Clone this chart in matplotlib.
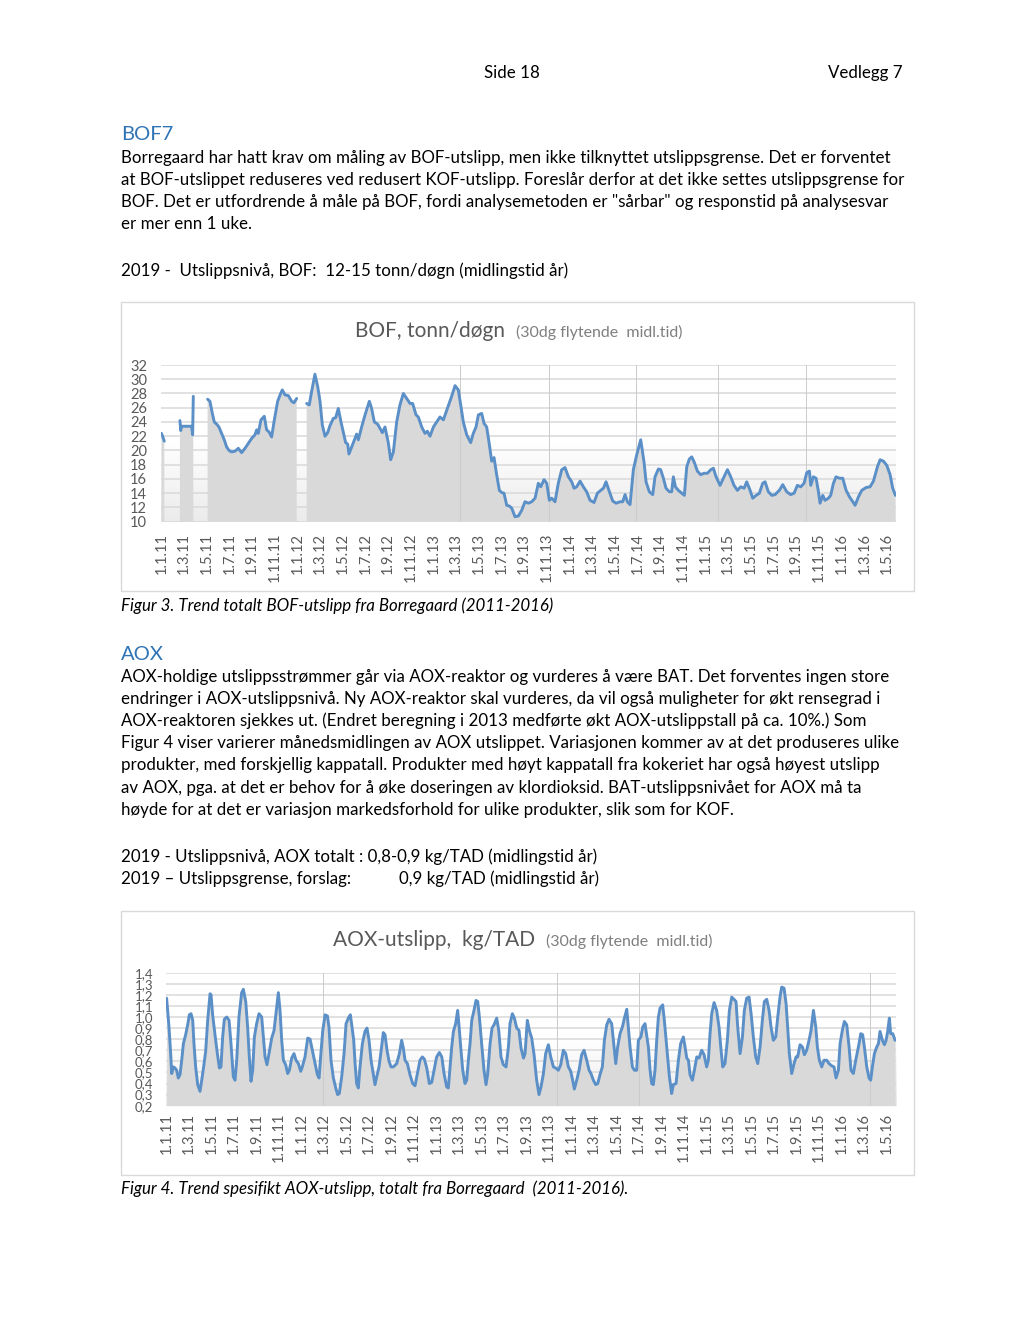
"""Side 18 / Vedlegg 7: BOF and AOX trend charts (30-day moving average, 2011-2016)."""
import matplotlib

matplotlib.use("Agg")

import numpy as np
import matplotlib.pyplot as plt
from matplotlib.colors import LinearSegmentedColormap
from matplotlib.patches import Rectangle

W, H = 1024, 1325
nan = np.nan

# x in months after 1.1.11; NaN marks gaps in the series
bof_month = [
    0.00, 0.10, 0.25, nan,
    1.63, 1.70, 1.78, 2.66, 2.75, 2.81, nan,
    4.07, 4.28, 4.49, 4.66, 4.87, 5.07, 5.31, 5.54, 5.75, 5.96, 6.19, 6.49, 6.78, 7.07,
    7.37, 7.66, 7.96, 8.25, 8.40, 8.54, 8.78, 9.07, 9.28, 9.49, 9.72, 9.96, 10.25, 10.49,
    10.66, 10.90, 11.19, 11.49, 11.69, 11.93, nan,
    12.81, 13.04, 13.25, 13.54, 13.78, 13.99, 14.19, 14.43, 14.66, 14.87, 15.16, 15.37,
    15.60, 15.84, 16.04, 16.25, 16.43, 16.54, 16.78, 17.01, 17.22, 17.37, 17.66, 17.96,
    18.34, 18.54, 18.78, 19.07, 19.28, 19.49, 19.72, 20.01, 20.22, 20.46, 20.75, 21.04,
    21.34, 21.63, 21.93, 22.16, 22.46, 22.66, 22.96, 23.25, 23.46, 23.69, 23.99, 24.28,
    24.57, 24.87, 25.22, 25.60, 25.90, 26.19, 26.40, 26.63, 26.93, 27.28, 27.51, 27.75,
    27.96, 28.25, 28.46, 28.69, 28.93, 29.13, 29.34, 29.57, 29.81, 30.01, 30.22, 30.46,
    30.69, 30.90, 31.19, 31.49, 31.78, 32.07, 32.37, 32.66, 32.96, 33.25, 33.46, 33.75,
    33.99, 34.22, 34.43, 34.72, 35.01, 35.31, 35.60, 35.90, 36.19, 36.40, 36.63, 36.93,
    37.22, 37.51, 37.81, 38.16, 38.46, 38.75, 38.99, 39.22, 39.52, 39.81, 40.10, 40.46,
    40.69, 40.90, 41.10, 41.34, 41.63, 41.93, 42.28, 42.57, 42.75, 43.04, 43.34, 43.54,
    43.84, 44.04, 44.28, 44.51, 44.81, 45.01, 45.16, 45.34, 45.60, 45.90, 46.13, 46.34,
    46.57, 46.78, 46.99, 47.28, 47.57, 47.87, 48.16, 48.46, 48.69, 48.93, 49.28, 49.57,
    49.93, 50.22, 50.51, 50.81, 51.10, 51.40, 51.63, 51.93, 52.16, 52.46, 52.75, 53.04,
    53.25, 53.54, 53.84, 54.13, 54.51, 54.81, 55.16, 55.51, 55.81, 56.10, 56.40, 56.69,
    56.93, 57.16, 57.28, 57.51, 57.75, 57.96, 58.10, 58.34, 58.54, 58.84, 59.04, 59.28,
    59.51, 59.81, 60.10, 60.40, 60.69, 60.99, 61.19, 61.49, 61.78, 62.16, 62.51, 62.81,
    63.16, 63.40, 63.69, 63.99, 64.28, 64.51, 64.75,
]
bof_value = [
    22.4, 22.0, 21.3, nan,
    24.2, 22.8, 23.4, 23.4, 22.2, 27.6, nan,
    27.2, 26.9, 25.2, 24.0, 23.7, 23.3, 22.4, 21.5, 20.5, 20.0, 19.8, 19.9, 20.3, 19.7,
    20.3, 21.0, 21.7, 22.2, 22.9, 22.4, 24.3, 24.8, 22.9, 22.6, 21.9, 24.3, 26.9, 27.9,
    28.5, 27.8, 27.7, 26.9, 26.7, 27.3, nan,
    26.6, 26.4, 28.3, 30.7, 29.0, 26.9, 23.6, 22.0, 22.5, 23.5, 24.5, 24.6,
    25.9, 24.0, 22.6, 21.1, 20.9, 19.5, 20.5, 21.5, 22.3, 21.5, 23.3, 25.0,
    26.9, 25.9, 24.0, 23.7, 23.1, 22.5, 23.3, 21.1, 18.7, 19.8, 24.0, 26.4,
    28.0, 27.3, 26.6, 26.6, 25.0, 24.7, 23.3, 22.4, 22.7, 22.0, 23.3, 24.0,
    24.7, 24.3, 25.9, 27.6, 29.1, 28.5, 26.4, 24.0, 22.2, 21.1, 22.4, 23.3,
    25.0, 25.2, 23.8, 23.3, 20.8, 18.5, 19.0, 16.6, 14.4, 14.1, 14.0, 12.3,
    12.2, 11.9, 10.7, 10.8, 11.6, 12.8, 12.6, 12.8, 13.3, 15.4, 14.9, 15.9,
    15.4, 13.0, 13.3, 12.8, 15.4, 17.3, 17.6, 16.3, 15.6, 14.7, 14.9, 15.7,
    14.9, 14.2, 13.0, 12.7, 14.0, 14.4, 14.7, 15.6, 14.2, 12.9, 12.6, 12.8,
    12.8, 13.8, 12.8, 12.4, 17.3, 19.4, 21.5, 18.4, 15.6, 14.2, 13.8, 16.3,
    17.4, 17.3, 16.1, 14.7, 14.2, 14.2, 16.3, 14.9, 14.4, 14.0, 13.7, 17.7,
    18.8, 19.1, 18.4, 17.1, 16.6, 16.8, 16.8, 17.3, 17.5, 16.3, 15.1, 16.1,
    17.3, 16.3, 15.1, 14.4, 14.9, 14.7, 15.6, 14.4, 13.3, 13.7, 14.0, 15.4,
    15.6, 14.2, 13.7, 13.8, 14.4, 15.2, 14.2, 13.8, 14.0, 15.1, 14.9, 15.4,
    16.9, 17.1, 15.1, 16.3, 16.1, 14.2, 12.6, 13.7, 13.0, 13.3, 13.7, 15.4,
    16.3, 16.1, 16.1, 14.4, 13.5, 12.8, 12.3, 13.5, 14.4, 14.8, 14.9, 15.7,
    17.7, 18.7, 18.5, 17.9, 16.6, 14.7, 13.7,
]

aox_month = [
    0.01, 0.22, 0.37, 0.46, 0.61, 0.76, 0.90, 1.05, 1.20, 1.35, 1.50, 1.70, 1.88, 2.03,
    2.18, 2.33, 2.44, 2.59, 2.77, 2.98, 3.13, 3.30, 3.48, 3.66, 3.87, 3.96, 4.10, 4.31,
    4.52, 4.70, 4.84, 4.99, 5.14, 5.35, 5.56, 5.73, 5.94, 6.09, 6.24, 6.44, 6.68, 6.83,
    7.04, 7.21, 7.36, 7.51, 7.66, 7.81, 8.01, 8.22, 8.46, 8.61, 8.76, 8.93, 9.11, 9.35,
    9.56, 9.79, 9.94, 10.09, 10.24, 10.39, 10.59, 10.77, 10.92, 11.13, 11.33, 11.51,
    11.72, 11.93, 12.07, 12.31, 12.55, 12.76, 12.96, 13.20, 13.41, 13.56, 13.70, 13.88,
    14.09, 14.30, 14.44, 14.62, 14.83, 15.04, 15.21, 15.36, 15.57, 15.78, 15.96, 16.16,
    16.34, 16.49, 16.64, 16.76, 16.90, 17.05, 17.20, 17.41, 17.64, 17.82, 18.00, 18.18,
    18.39, 18.53, 18.68, 18.89, 19.07, 19.27, 19.42, 19.60, 19.78, 19.96, 20.16, 20.46,
    20.70, 20.90, 21.05, 21.20, 21.41, 21.64, 21.88, 22.09, 22.30, 22.53, 22.74, 22.92,
    23.13, 23.36, 23.57, 23.78, 24.01, 24.25, 24.47, 24.67, 24.90, 25.05, 25.20, 25.35,
    25.50, 25.70, 25.88, 26.00, 26.15, 26.33, 26.53, 26.68, 26.83, 26.98, 27.13, 27.33,
    27.51, 27.66, 27.81, 28.01, 28.22, 28.40, 28.55, 28.76, 28.93, 29.11, 29.35, 29.53,
    29.73, 29.94, 30.18, 30.39, 30.53, 30.74, 30.92, 31.13, 31.33, 31.51, 31.73, 31.87,
    32.07, 32.25, 32.46, 32.67, 32.90, 33.11, 33.29, 33.50, 33.70, 33.94, 34.15, 34.39,
    34.59, 34.83, 35.04, 35.27, 35.48, 35.72, 35.93, 36.10, 36.25, 36.46, 36.67, 36.90,
    37.11, 37.35, 37.56, 37.73, 37.94, 38.15, 38.33, 38.53, 38.74, 38.92, 39.13, 39.33,
    39.57, 39.72, 39.93, 40.10, 40.31, 40.52, 40.70, 40.91, 41.05, 41.20, 41.41, 41.59,
    41.79, 41.94, 42.16, 42.33, 42.53, 42.83, 42.98, 43.13, 43.27, 43.42, 43.57, 43.72,
    43.87, 44.10, 44.25, 44.46, 44.70, 44.90, 45.05, 45.29, 45.50, 45.70, 45.94, 46.09,
    46.24, 46.39, 46.53, 46.74, 46.92, 47.13, 47.33, 47.57, 47.78, 48.01, 48.16, 48.31,
    48.46, 48.67, 48.90, 49.11, 49.29, 49.44, 49.64, 49.85, 50.03, 50.24, 50.44, 50.62,
    50.77, 50.98, 51.19, 51.36, 51.57, 51.78, 51.96, 52.16, 52.37, 52.55, 52.76, 52.96,
    53.14, 53.35, 53.56, 53.73, 53.94, 54.15, 54.33, 54.53, 54.68, 54.89, 55.07, 55.21,
    55.36, 55.57, 55.78, 55.96, 56.10, 56.31, 56.52, 56.70, 56.90, 57.11, 57.29, 57.50,
    57.71, 57.85, 58.03, 58.24, 58.44, 58.68, 58.89, 59.12, 59.33, 59.51, 59.72, 59.87,
    60.07, 60.25, 60.46, 60.67, 60.84, 61.05, 61.26, 61.50, 61.71, 61.88, 62.03, 62.24,
    62.44, 62.59, 62.74, 62.92, 63.13, 63.28, 63.42, 63.63, 63.81, 63.96, 64.10, 64.25,
    64.37, 64.55, 64.76,
]
aox_value = [
    1.17, 0.91, 0.67, 0.49, 0.55, 0.54, 0.52, 0.45, 0.48, 0.61, 0.76, 0.84, 0.93, 1.02,
    1.03, 0.97, 0.76, 0.55, 0.39, 0.33, 0.43, 0.55, 0.69, 0.97, 1.21, 1.20, 1.02, 0.84,
    0.67, 0.54, 0.55, 0.82, 0.98, 1.00, 0.97, 0.76, 0.46, 0.43, 0.61, 1.00, 1.22, 1.25,
    1.14, 0.91, 0.64, 0.42, 0.52, 0.82, 0.94, 1.03, 1.00, 0.82, 0.64, 0.57, 0.67, 0.81,
    0.88, 1.09, 1.22, 1.06, 0.79, 0.61, 0.57, 0.49, 0.52, 0.63, 0.67, 0.61,
    0.58, 0.51, 0.55, 0.64, 0.81, 0.80, 0.70, 0.58, 0.48, 0.45, 0.64, 0.87,
    1.02, 1.01, 0.91, 0.61, 0.45, 0.36, 0.30, 0.31, 0.46, 0.67, 0.94, 0.99,
    1.02, 0.91, 0.79, 0.58, 0.40, 0.36, 0.55, 0.76, 0.87, 0.90, 0.79, 0.61,
    0.48, 0.39, 0.46, 0.55, 0.69, 0.86, 0.84, 0.70, 0.60, 0.55, 0.55, 0.58,
    0.67, 0.79, 0.72, 0.61, 0.58, 0.48, 0.40, 0.38, 0.49, 0.61, 0.64, 0.62,
    0.54, 0.40, 0.41, 0.52, 0.64, 0.68, 0.64, 0.49, 0.37, 0.36, 0.55, 0.73,
    0.87, 0.94, 1.06, 0.92, 0.73, 0.52, 0.40, 0.43, 0.61, 0.76, 0.97, 1.06,
    1.15, 1.14, 1.00, 0.76, 0.52, 0.39, 0.49, 0.76, 0.90, 0.93, 0.99, 0.88,
    0.64, 0.57, 0.55, 0.73, 0.94, 1.03, 0.99, 0.90, 0.88, 0.72, 0.63, 0.67,
    0.97, 0.88, 0.81, 0.66, 0.43, 0.30, 0.37, 0.49, 0.67, 0.75, 0.64, 0.55,
    0.54, 0.52, 0.57, 0.70, 0.67, 0.55, 0.51, 0.43, 0.35, 0.43, 0.52, 0.66,
    0.70, 0.61, 0.52, 0.49, 0.43, 0.39, 0.40, 0.48, 0.55, 0.79, 0.93, 0.98,
    0.94, 0.79, 0.58, 0.73, 0.85, 0.91, 0.99, 1.07, 0.91, 0.73, 0.55, 0.52,
    0.52, 0.79, 0.82, 0.91, 0.94, 0.73, 0.52, 0.40, 0.39, 0.52, 0.79, 1.00,
    1.08, 1.11, 0.97, 0.73, 0.46, 0.31, 0.39, 0.40, 0.61, 0.76, 0.82, 0.73,
    0.63, 0.61, 0.48, 0.43, 0.52, 0.64, 0.63, 0.70, 0.66, 0.55, 0.61, 0.85,
    1.03, 1.13, 1.06, 0.91, 0.70, 0.55, 0.58, 0.79, 1.06, 1.18, 1.16, 1.14,
    0.91, 0.67, 0.82, 1.06, 1.17, 1.18, 1.03, 0.82, 0.64, 0.58, 0.73, 0.97,
    1.14, 1.16, 1.06, 0.91, 0.79, 0.82, 1.00, 1.18, 1.27, 1.26, 1.12, 0.91,
    0.67, 0.49, 0.58, 0.64, 0.64, 0.75, 0.73, 0.66, 0.70, 0.79, 0.88, 1.06,
    0.91, 0.73, 0.61, 0.55, 0.61, 0.61, 0.58, 0.56, 0.55, 0.45, 0.52, 0.76,
    0.88, 0.96, 0.93, 0.73, 0.52, 0.49, 0.61, 0.73, 0.85, 0.84, 0.73, 0.55,
    0.45, 0.43, 0.55, 0.67, 0.73, 0.76, 0.87, 0.79, 0.75, 0.79, 0.87, 0.99,
    0.85, 0.85, 0.79,
]

tick_months = list(range(0, 65, 2))
tick_labels = [f"1.{m}.{y}" for y in range(11, 17) for m in (1, 3, 5, 7, 9, 11)][:33]
bof_yticks = list(range(10, 33, 2))
aox_yticks = [round(0.2 + 0.1 * i, 1) for i in range(13)]

# Excel's faint vertical gridlines
bof_vlines = [26.3, 34.2, 41.9, 49.1, 56.9]
aox_vlines = [13.9, 34.7, 42.0, 62.5]

FONT = ["Lato", "DejaVu Sans"]
BODY = 12.2
LINE = "#5b8fc7"
FILL = "#d9d9d9"
GRID = "#d9d9d9"
TICK = "#595959"

plt.rcParams["font.family"] = FONT

fig = plt.figure(figsize=(W / 100, H / 100), dpi=100)
renderer = fig.canvas.get_renderer()


def put(x, y, s, size=BODY, **kw):
    """Place text at page pixel (x, baseline y)."""
    kw.setdefault("va", "baseline")
    return fig.text(x / W, 1 - y / H, s, fontsize=size, **kw)


def chart_title(x, y, title, sub):
    t = put(x, y, title, size=15, color="#595959")
    x_end = t.get_window_extent(renderer).x1
    put(x_end + 11, y, sub, size=11.5, color="#7f7f7f")


def frame(x0, y0, x1, y1):
    fig.patches.append(Rectangle((x0 / W, 1 - y1 / H), (x1 - x0) / W, (y1 - y0) / H,
                                 transform=fig.transFigure, fill=False,
                                 edgecolor="#d9d9d9", linewidth=1.0))


def plot_axes(x0, y0, x1, y1):
    return fig.add_axes([x0 / W, 1 - y1 / H, (x1 - x0) / W, (y1 - y0) / H])


def area_chart(ax, months, values, xlim, ylim, yticks, ylabels, vlines, ypad, xpad, ysize):
    months = np.asarray(months, dtype=float)
    values = np.asarray(values, dtype=float)
    grad = LinearSegmentedColormap.from_list("bg", ["#ffffff", "#ffffff", "#ebebeb"])
    ax.imshow(np.linspace(0, 1, 256).reshape(-1, 1), cmap=grad, aspect="auto",
              extent=[xlim[0], xlim[1], ylim[0], ylim[1]], zorder=0)
    for y in yticks:
        ax.axhline(y, color=GRID, linewidth=1.1, zorder=1)
    ax.fill_between(months, values, ylim[0], color=FILL, linewidth=0, zorder=2)
    for x in vlines:
        ax.axvline(x, color="#cbcbcb", linewidth=0.7, zorder=2.5)
    ax.plot(months, values, color=LINE, linewidth=2.1, zorder=3,
            solid_joinstyle="round", solid_capstyle="round")
    ax.set_xlim(*xlim)
    ax.set_ylim(*ylim)
    ax.set_yticks(yticks, ylabels)
    ax.set_xticks(tick_months, tick_labels, rotation=90)
    ax.tick_params(axis="y", length=0, pad=ypad, labelsize=ysize, labelcolor=TICK)
    ax.tick_params(axis="x", length=0, pad=xpad, labelsize=10.5, labelcolor=TICK)
    for s in ax.spines.values():
        s.set_visible(False)


# --- page header & BOF text ---------------------------------------------------
put(512, 78, "Side 18", ha="center")
put(903, 78, "Vedlegg 7", ha="right")
put(121, 140, "BOF7", size=14.5, color="#2e74b5")
bof_text = [
    "Borregaard har hatt krav om måling av BOF-utslipp, men ikke tilknyttet utslippsgrense. Det er forventet",
    "at BOF-utslippet reduseres ved redusert KOF-utslipp. Foreslår derfor at det ikke settes utslippsgrense for",
    "BOF. Det er utfordrende å måle på BOF, fordi analysemetoden er \"sårbar\" og responstid på analysesvar",
    "er mer enn 1 uke.",
]
for i, line in enumerate(bof_text):
    put(121, 163 + 22 * i, line)
put(121, 276, "2019 -  Utslippsnivå, BOF:  12-15 tonn/døgn (midlingstid år)")

# --- BOF chart ----------------------------------------------------------------
frame(121, 302, 914, 591)
chart_title(355, 337, "BOF, tonn/døgn", "(30dg flytende  midl.tid)")
ax1 = plot_axes(161, 365, 896, 521.7)
area_chart(ax1, bof_month, bof_value, (-0.04, 64.8), (10, 32), bof_yticks,
           [str(v) for v in bof_yticks], bof_vlines, ypad=10, xpad=8, ysize=10.5)
put(121, 611, "Figur 3. Trend totalt BOF-utslipp fra Borregaard (2011-2016)", style="italic")

# --- AOX text -----------------------------------------------------------------
put(121, 660, "AOX", size=14.5, color="#2e74b5")
aox_text = [
    "AOX-holdige utslippsstrømmer går via AOX-reaktor og vurderes å være BAT. Det forventes ingen store",
    "endringer i AOX-utslippsnivå. Ny AOX-reaktor skal vurderes, da vil også muligheter for økt rensegrad i",
    "AOX-reaktoren sjekkes ut. (Endret beregning i 2013 medførte økt AOX-utslippstall på ca. 10%.) Som",
    "Figur 4 viser varierer månedsmidlingen av AOX utslippet. Variasjonen kommer av at det produseres ulike",
    "produkter, med forskjellig kappatall. Produkter med høyt kappatall fra kokeriet har også høyest utslipp",
    "av AOX, pga. at det er behov for å øke doseringen av klordioksid. BAT-utslippsnivået for AOX må ta",
    "høyde for at det er variasjon markedsforhold for ulike produkter, slik som for KOF.",
]
for i, line in enumerate(aox_text):
    put(121, 682 + 22.1 * i, line)
put(121, 862, "2019 - Utslippsnivå, AOX totalt : 0,8-0,9 kg/TAD (midlingstid år)")
put(121, 884, "2019 – Utslippsgrense, forslag:")
put(399, 884, "0,9 kg/TAD (midlingstid år)")

# --- AOX chart ----------------------------------------------------------------
frame(121, 911, 914, 1175)
chart_title(333, 946, "AOX-utslipp,  kg/TAD", "(30dg flytende  midl.tid)")
ax2 = plot_axes(165.5, 972.7, 896, 1105.7)
area_chart(ax2, aox_month, aox_value, (-0.09, 64.84), (0.2, 1.4), aox_yticks,
           [f"{v:.1f}".replace(".", ",") for v in aox_yticks], aox_vlines,
           ypad=9, xpad=5, ysize=9.5)
put(121, 1194, "Figur 4. Trend spesifikt AOX-utslipp, totalt fra Borregaard  (2011-2016).",
    style="italic")

fig.savefig("out.png", dpi=100)
